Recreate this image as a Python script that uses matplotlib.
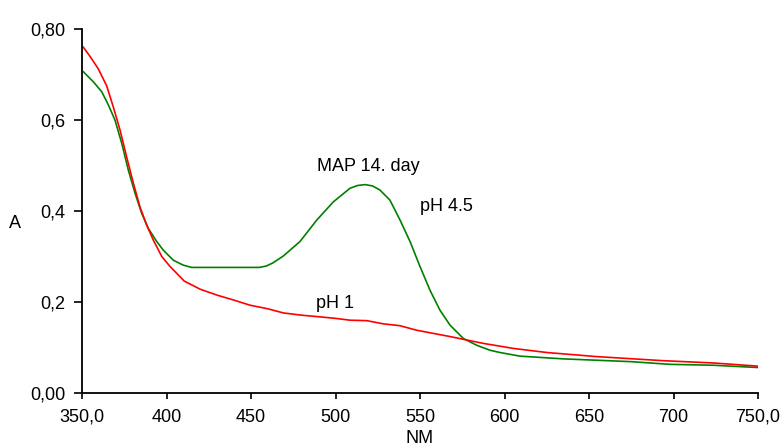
import matplotlib
matplotlib.use("Agg")
import matplotlib.pyplot as plt

plt.rcParams['font.family'] = ['Liberation Sans', 'DejaVu Sans']

# pH 1 curve (red)
nm_ph1 = [350.8, 354.7, 359.7, 364.6, 368.5, 372.5, 376.4, 380.4, 384.3, 388.3, 392.2,
          397.2, 402.1, 410.5, 420, 430, 440, 449.4, 460, 469.1, 480, 488.9, 500, 508.6,
          518.5, 528.3, 538, 548, 567.8, 587.5, 605.2, 625, 654.5, 694, 723.6, 750]
a_ph1 = [0.760, 0.740, 0.712, 0.675, 0.629, 0.578, 0.519, 0.461, 0.409, 0.369, 0.336,
         0.300, 0.278, 0.246, 0.228, 0.215, 0.204, 0.193, 0.185, 0.176, 0.171, 0.168, 0.164, 0.160,
         0.159, 0.152, 0.148, 0.138, 0.124, 0.109, 0.098, 0.089, 0.080, 0.071, 0.066, 0.059]

# pH 4.5 curve (green)
nm_ph45 = [350.8, 356.7, 361.7, 365.6, 369.5, 373.5, 377.4, 381.4, 385.3, 389.2, 394.2,
           398.1, 404, 409.9, 414.9, 455, 459, 463, 469.1, 479, 488.9, 498.7, 508.6,
           513, 517.5, 522, 526.3, 532.2, 538.2, 544.1, 550, 555.9, 561.8, 567.8, 575.6,
           583.5, 591.4, 597.3, 609.2, 634.8, 674.3, 698, 723.6, 750]
a_ph45 = [0.706, 0.684, 0.662, 0.633, 0.600, 0.549, 0.490, 0.439, 0.395, 0.362, 0.333,
          0.314, 0.292, 0.281, 0.276, 0.276, 0.279, 0.286, 0.301, 0.333, 0.380, 0.420, 0.450,
          0.456, 0.458, 0.455, 0.446, 0.424, 0.380, 0.333, 0.278, 0.226, 0.182, 0.149, 0.120,
          0.105, 0.094, 0.089, 0.081, 0.075, 0.069, 0.063, 0.061, 0.056]

x_ticks = [350, 400, 450, 500, 550, 600, 650, 700, 750]
x_labels = ['350,0', '400', '450', '500', '550', '600', '650', '700', '750,0']
y_ticks = [0.0, 0.2, 0.4, 0.6, 0.8]
y_labels = ['0,00', '0,2', '0,4', '0,6', '0,80']

fig = plt.figure(figsize=(7.83, 4.47), dpi=100)
ax = fig.add_axes([82 / 783, 54 / 447, 676 / 783, 364 / 447])

ax.plot(nm_ph45, a_ph45, color='#008000', lw=1.2)
ax.plot(nm_ph1, a_ph1, color='#ff0000', lw=1.2)

ax.set_xlim(350, 750)
ax.set_ylim(0, 0.8)
ax.set_xticks(x_ticks, x_labels)
ax.set_yticks(y_ticks, y_labels)
ax.tick_params(labelsize=13, length=6, width=1.2, direction='out')
ax.tick_params(axis='x', length=4.5, pad=7)
ax.tick_params(axis='y', pad=6)

ax.spines['top'].set_visible(False)
ax.spines['right'].set_visible(False)
ax.spines['left'].set_linewidth(1.3)
ax.spines['bottom'].set_linewidth(1.3)

ax.text(489, 0.497, 'MAP 14. day', fontsize=13, va='center', ha='left')
ax.text(550, 0.41, 'pH 4.5', fontsize=13, va='center', ha='left')
ax.text(488.5, 0.196, 'pH 1', fontsize=13, va='center', ha='left')

fig.text(15 / 783, 1 - 224 / 447, 'A', fontsize=13, ha='center', va='center')
fig.text(420 / 783, 1 - 430 / 447, 'NM', fontsize=13, ha='center', va='top')

fig.savefig('out.png', dpi=100)
